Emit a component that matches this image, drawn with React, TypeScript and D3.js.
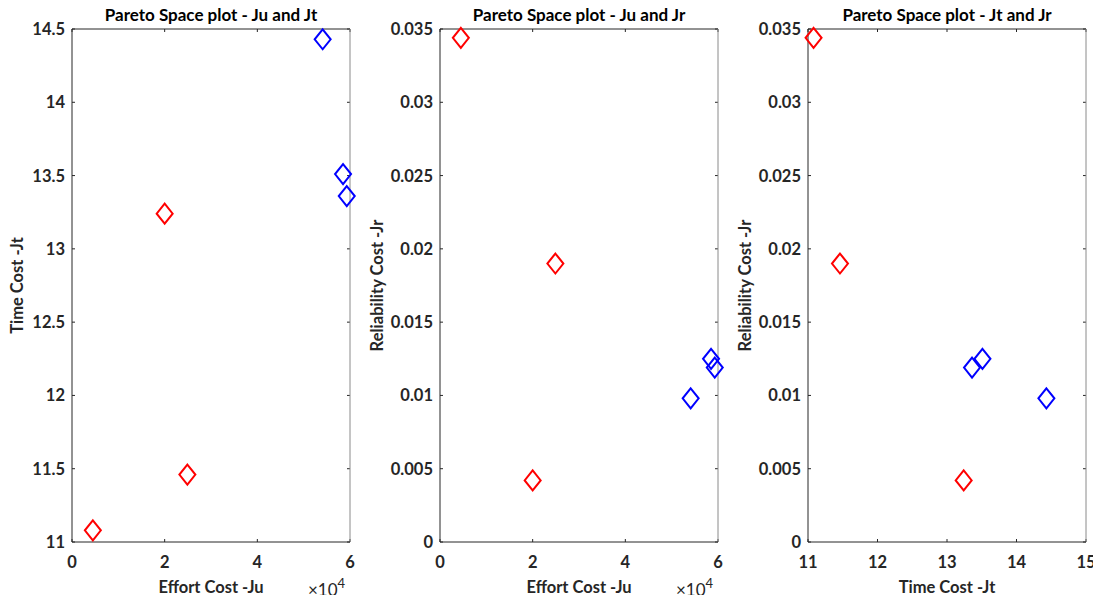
import React from 'react';
import * as d3 from 'd3';

// Pareto front points (red = first group, blue = second group)
const redJu = [4500, 20000, 24900];
const redJt = [11.08, 13.24, 11.46];
const redJr = [0.0344, 0.0042, 0.019];

const blueJu = [54100, 58500, 59300];
const blueJt = [14.43, 13.51, 13.36];
const blueJr = [0.0098, 0.0125, 0.0119];

const juTicks = [0, 20000, 40000, 60000];
const jtTicks = [11, 12, 13, 14, 15];
const jtYTicks = [11, 11.5, 12, 12.5, 13, 13.5, 14, 14.5];
const jrTicks = [0, 0.005, 0.01, 0.015, 0.02, 0.025, 0.03, 0.035];

const titles = ['Pareto Space plot - Ju and Jt', 'Pareto Space plot - Ju and Jr', 'Pareto Space plot - Jt and Jr'];
const xLabels = ['Effort Cost -Ju', 'Effort Cost -Ju', 'Time Cost -Jt'];
const yLabels = ['Time Cost -Jt', 'Reliability Cost -Jr', 'Reliability Cost -Jr'];

const FONT = 'Lato, "Open Sans", sans-serif';
const TXT = '#262626';

const top = 29;
const bottom = 542;
const lefts = [72, 440, 808];
const yLabelOffsets = [55, 63, 63];
const plotW = 278;

const panels = [
  { x: [redJu, blueJu], y: [redJt, blueJt], xDom: [0, 60000], yDom: [11, 14.5], xt: juTicks, yt: jtYTicks, xExp: true },
  { x: [redJu, blueJu], y: [redJr, blueJr], xDom: [0, 60000], yDom: [0, 0.035], xt: juTicks, yt: jrTicks, xExp: true },
  { x: [redJt, blueJt], y: [redJr, blueJr], xDom: [11, 15], yDom: [0, 0.035], xt: jtTicks, yt: jrTicks, xExp: false },
];

const colors = ['#ff0000', '#0000ff'];

const diamond = (cx: number, cy: number) =>
  `M${cx},${cy - 10}L${cx + 8},${cy}L${cx},${cy + 10}L${cx - 8},${cy}Z`;

const Panel = ({ i }: { i: number }) => {
  const p = panels[i];
  const left = lefts[i];
  const x = d3.scaleLinear().domain(p.xDom).range([left, left + plotW]);
  const y = d3.scaleLinear().domain(p.yDom).range([bottom, top]);
  const fx = (v: number) => (p.xExp ? d3.format('~g')(v / 10000) : d3.format('~g')(v));
  const fy = (v: number) => d3.format('~g')(+v.toFixed(4));
  const cx = left + plotW / 2;
  return (
    <g>
      <rect x={left} y={top} width={plotW} height={bottom - top} fill="#fff" stroke="none" />
      {p.xt.map((t) => (
        <g key={'x' + t}>
          <line x1={x(t)} x2={x(t)} y1={bottom} y2={bottom - 3} stroke={TXT} />
          <line x1={x(t)} x2={x(t)} y1={top} y2={top + 3} stroke={TXT} />
          <text x={x(t)} y={562} textAnchor="middle" dominantBaseline="central" fontSize={16.5} fontWeight={700} fill={TXT} fontFamily={FONT}>
            {fx(t)}
          </text>
        </g>
      ))}
      {p.yt.map((t) => (
        <g key={'y' + t}>
          <line x1={left} x2={left + 3} y1={y(t)} y2={y(t)} stroke={TXT} />
          <line x1={left + plotW} x2={left + plotW - 3} y1={y(t)} y2={y(t)} stroke={TXT} />
          <text x={left - 7} y={y(t)} textAnchor="end" dominantBaseline="central" fontSize={16.5} fontWeight={700} fill={TXT} fontFamily={FONT}>
            {fy(t)}
          </text>
        </g>
      ))}
      <line x1={left} x2={left + plotW} y1={top} y2={top} stroke={TXT} />
      <line x1={left + plotW} x2={left + plotW} y1={top} y2={bottom} stroke="#8a8a8a" />
      <line x1={left} x2={left} y1={top} y2={bottom} stroke={TXT} />
      <line x1={left} x2={left + plotW} y1={bottom} y2={bottom} stroke={TXT} />
      {p.x.map((xs, s) =>
        xs.map((v, k) => (
          <path key={s + '-' + k} d={diamond(x(v), y(p.y[s][k]))} fill="none" stroke={colors[s]} strokeWidth={2} />
        ))
      )}
      <text x={cx} y={14} textAnchor="middle" dominantBaseline="central" fontSize={17} fontWeight={700} fill="#000" fontFamily={FONT}>
        {titles[i]}
      </text>
      <text x={cx} y={587} textAnchor="middle" dominantBaseline="central" fontSize={16.5} fontWeight={700} fill={TXT} fontFamily={FONT}>
        {xLabels[i]}
      </text>
      <text
        transform={`translate(${left - yLabelOffsets[i]},${(top + bottom) / 2}) rotate(-90)`}
        textAnchor="middle"
        dominantBaseline="central"
        fontSize={16.5}
        fontWeight={700}
        fill={TXT}
        fontFamily={FONT}
      >
        {yLabels[i]}
      </text>
      {p.xExp && (
        <text x={left + plotW - 42} y={596} fontSize={17} fill={TXT} fontFamily={FONT}>
          ×10
          <tspan dy={-8} fontSize={13}>4</tspan>
        </text>
      )}
    </g>
  );
};

export default function App() {
  return (
    <svg width={1101} height={603} style={{ display: 'block', margin: '-8px', background: '#fff' }}>
      {panels.map((_, i) => (
        <Panel key={i} i={i} />
      ))}
    </svg>
  );
}
